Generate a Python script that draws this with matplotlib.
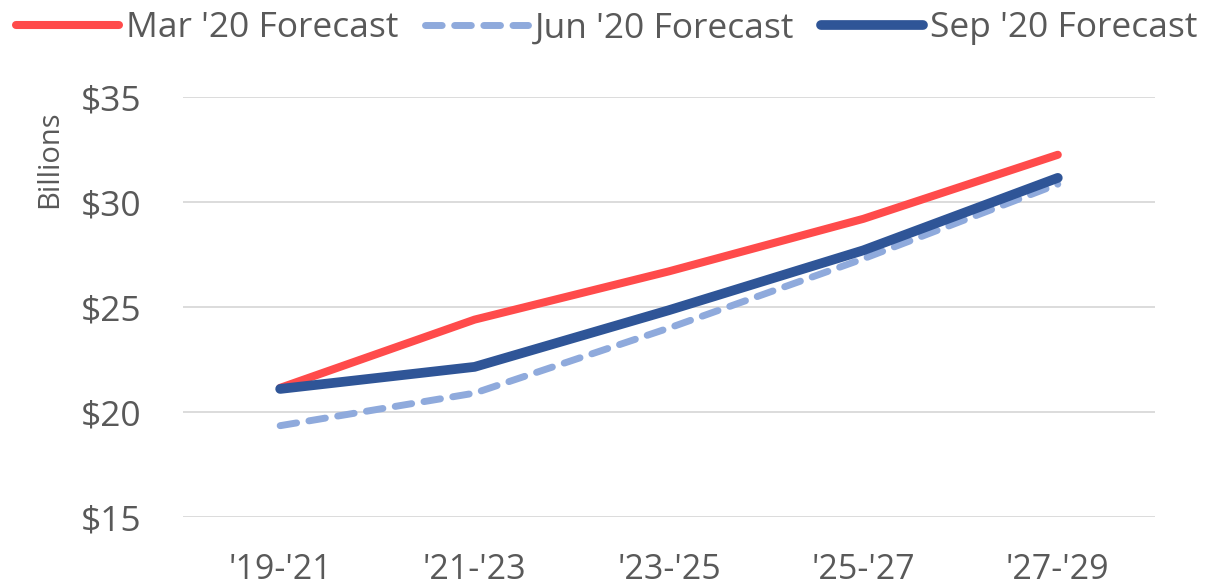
import matplotlib
matplotlib.use("Agg")
import matplotlib.pyplot as plt
from matplotlib.ticker import FuncFormatter

# periods and forecasts ($ billions)
periods = ["'19-'21", "'21-'23", "'23-'25", "'25-'27", "'27-'29"]
mar20 = [21.15, 24.4, 26.7, 29.2, 32.25]
jun20 = [19.35, 20.9, 24.0, 27.3, 30.85]
sep20 = [21.1, 22.15, 24.85, 27.7, 31.15]

plt.rcParams['font.family'] = ['Open Sans', 'DejaVu Sans']
grey = '#595959'

fig = plt.figure(figsize=(12.14, 5.88), dpi=100)
ax = fig.add_axes([0.1507, 0.1207, 0.8007, 0.7143])

x = range(len(periods))
l1, = ax.plot(x, mar20, color='#FF4B4B', lw=5.8, solid_capstyle='round', label="Mar '20 Forecast")
l2, = ax.plot(x, jun20, color='#8FAADC', lw=5, dashes=(2.4, 1.8), dash_capstyle='round', label="Jun '20 Forecast")
l3, = ax.plot(x, sep20, color='#2F5597', lw=7, solid_capstyle='round', label="Sep '20 Forecast")

ax.set_xlim(-0.5, 4.5)
ax.set_ylim(15, 35)
ax.set_yticks([15, 20, 25, 30, 35])
ax.yaxis.set_major_formatter(FuncFormatter(lambda v, p: '$%d' % v))
ax.set_xticks(list(x))
ax.set_xticklabels(periods)
ax.grid(axis='y', color='#D9D9D9', lw=1.3)
ax.set_axisbelow(True)
for s in ax.spines.values():
    s.set_visible(False)
ax.tick_params(length=0, colors=grey)
ax.tick_params(axis='x', labelsize=24.5, pad=26)
ax.tick_params(axis='y', labelsize=25.5, pad=30)

fig.text(0.041, 0.73, 'Billions', rotation=90, ha='center', va='center', fontsize=21, color=grey)

leg = fig.legend(handles=[l1, l2, l3], loc='center', bbox_to_anchor=(0.5, 0.952), ncol=3,
                 frameon=False, fontsize=25.5, handlelength=2.9, handletextpad=0.2, columnspacing=0.75,
                 borderpad=0, borderaxespad=0)
for t in leg.get_texts():
    t.set_color(grey)

fig.savefig('out.png', dpi=100)
